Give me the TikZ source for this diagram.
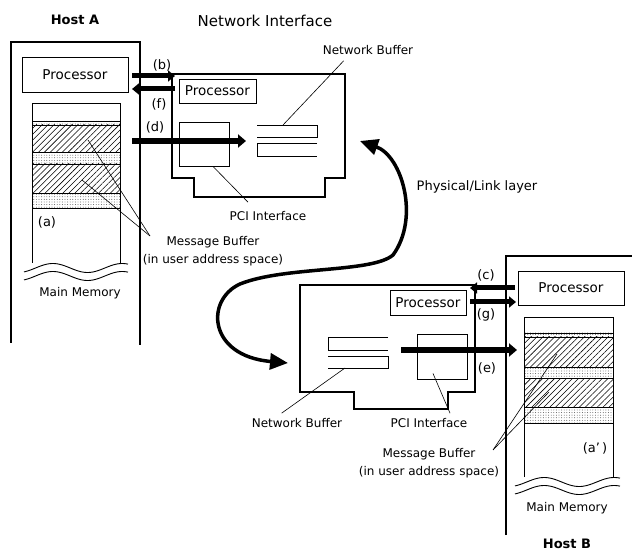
\documentclass[tikz,border=0pt]{standalone}
\usepackage{fontspec}
\setmainfont{DejaVu Sans}
\usepackage{tikz}
\usetikzlibrary{arrows.meta,patterns.meta,calc}
\tikzset{
    host wall/.style={line width=2.4pt},
    card wall/.style={line width=1.8pt},
    thin wall/.style={line width=0.9pt},
    box/.style={draw,line width=0.9pt,inner sep=0pt,font=\fontsize{13.5}{15}\selectfont},
    title/.style={inner sep=0pt,font=\bfseries\fontsize{13}{15}\selectfont},
    heading/.style={inner sep=0pt,font=\fontsize{15}{17}\selectfont},
    lbl/.style={inner sep=0pt,font=\fontsize{12}{18}\selectfont},
    tag/.style={inner sep=0pt,font=\fontsize{13}{15}\selectfont},
    leader/.style={line width=0.6pt},
    bus/.style={line width=5pt,-{Triangle[length=7pt,width=11pt]}},
    wide bus/.style={line width=5.5pt,-{Triangle[length=8pt,width=13pt]}},
    link/.style={line width=3.5pt,{Triangle[length=18pt,width=16pt]}-{Triangle[length=18pt,width=16pt]}},
    hatch band/.style={draw,line width=0.6pt,pattern={Lines[angle=45,distance=4.2pt,line width=0.55pt]}},
    dot band/.style={draw,line width=0.6pt,pattern={Dots[distance=2.6pt,radius=0.45pt]},pattern color=black!75},
}

\begin{document}
\begin{tikzpicture}[x=1pt,y=-1pt]
        \useasboundingbox (0,0) rectangle (632,553);

        \node[heading] (netif) at (265,21) {Network Interface};

        % Host A
        \begin{scope}
            \node[title] (hostA) at (75,20) {Host A};
            \draw[host wall] (11,343) -- (11,42) -- (140,42) -- (140,345);
            \node[box, minimum width=106pt, minimum height=35pt] (procA) at (75,74.5) {Processor};

            \draw[dot band] (32,121) rectangle (120,125);
            \draw[hatch band] (32,125) rectangle (120,152);
            \draw[dot band] (32,152) rectangle (120,164);
            \draw[hatch band] (32,164) rectangle (120,193);
            \draw[dot band] (32,193) rectangle (120,208);
            \draw[thin wall] (32,263) -- (32,103) -- (120,103) -- (120,263);
            \node[tag] (memA) at (47,222) {(a)};

            \draw[thin wall] plot[domain=-60:480, samples=60] ({24+(\x+60)/540*104},{268-4.5*sin(\x)});
            \draw[thin wall] plot[domain=-60:480, samples=60] ({24+(\x+60)/540*104},{276-4.5*sin(\x)});
            \node[lbl] (mainA) at (80,293) {Main Memory};
        \end{scope}

        % network interface of host A
        \begin{scope}
            \draw[card wall] (172,74) -- (345,74) -- (345,178) -- (325,178) -- (325,197)
                -- (194,197) -- (194,178) -- (172,178) -- cycle;
            \node[box, minimum width=77pt, minimum height=24pt] (niprocA) at (217.5,91) {Processor};
            \node[box, minimum width=50pt, minimum height=44pt] (pciA) at (204,144) {};
            \draw[thin wall] (257,125) -- (317,125) -- (317,137) -- (257,137);
            \draw[thin wall] (317,143) -- (257,143) -- (257,156) -- (317,156);
            \coordinate (bufA) at (283,125);

            \node[lbl] (nbA) at (368,50) {Network Buffer};
            \draw[leader] ([xshift=21pt,yshift=-6pt]nbA.south west) -- (bufA);
            \node[lbl] (pciAlbl) at (268,216) {PCI Interface};
            \draw[leader] ([xshift=9pt]pciA.south) -- ([xshift=-20pt,yshift=9pt]pciAlbl.north);
        \end{scope}

        % transfers on host A side
        \coordinate (bA) at (132,76);
        \coordinate (bB) at (175,76);
        \coordinate (fA) at (175,89);
        \coordinate (fB) at (132,89);
        \coordinate (dA) at (132,141);
        \coordinate (dB) at (246,141);
        \draw[bus] (bA) -- (bB);
        \draw[bus] (fA) -- (fB);
        \draw[wide bus] (dA) -- (dB);
        \node[tag] (lblb) at (162,65) {(b)};
        \node[tag] (lblf) at (159,104) {(f)};
        \node[tag] (lbld) at (155,127) {(d)};

        \node[lbl, align=center] (msgA) at (213,251) {Message Buffer\\(in user address space)};
        \coordinate (msgptA) at (150,236);
        \draw[leader] (msgptA) -- (88,140);
        \draw[leader] (msgptA) -- (82,180);

        % physical / link layer
        \coordinate (linkA) at (360,141);
        \coordinate (linkB) at (288,363);
        \draw[link] (linkA) .. controls (402,156) and (420,218) .. (393,255)
            .. controls (372,273) and (285,266) .. (240,284)
            .. controls (205,300) and (208,356) .. (linkB);
        \node[tag] (phys) at (477,187) {Physical/Link layer};

        % network interface of host B
        \begin{scope}
            \draw[card wall] (300,285) -- (475,285) -- (475,392) -- (448,392) -- (448,409)
                -- (354,409) -- (354,392) -- (300,392) -- cycle;
            \node[box, minimum width=76pt, minimum height=25pt] (niprocB) at (428,302.5) {Processor};
            \node[box, minimum width=50pt, minimum height=45pt] (pciB) at (442,356.5) {};
            \draw[thin wall] (388,337) -- (328,337) -- (328,350) -- (388,350);
            \draw[thin wall] (328,356) -- (388,356) -- (388,368) -- (328,368);
            \coordinate (bufB) at (345,368);

            \node[lbl] (nbB) at (297,423) {Network Buffer};
            \draw[leader] (bufB) -- ([xshift=30pt,yshift=5pt]nbB.north west);
            \node[lbl] (pciBlbl) at (429,423) {PCI Interface};
            \draw[leader] ([xshift=-9pt,yshift=6pt]pciB.south) -- ([xshift=21pt,yshift=5pt]pciBlbl.north);
        \end{scope}

        % Host B
        \begin{scope}
            \draw[host wall] (506,535) -- (506,256) -- (632,256);
            \node[box, minimum width=106pt, minimum height=34pt] (procB) at (571,288) {Processor};

            \draw[dot band] (524,333) rectangle (613,337);
            \draw[hatch band] (524,337) rectangle (613,367);
            \draw[dot band] (524,367) rectangle (613,378);
            \draw[hatch band] (524,378) rectangle (613,407);
            \draw[dot band] (524,407) rectangle (613,423);
            \draw[thin wall] (524,477) -- (524,317) -- (613,317) -- (613,477);
            \node[tag] (memB) at (595,448) {(a'\,)};

            \draw[thin wall] plot[domain=-60:480, samples=60] ({515+(\x+60)/540*105},{482-4.5*sin(\x)});
            \draw[thin wall] plot[domain=-60:480, samples=60] ({515+(\x+60)/540*105},{490-4.5*sin(\x)});
            \node[lbl] (mainB) at (567,508) {Main Memory};
            \node[title] (hostB) at (567,544) {Host B};
        \end{scope}

        % transfers on host B side
        \coordinate (cA) at (515,288);
        \coordinate (cB) at (470,288);
        \coordinate (gA) at (470,302);
        \coordinate (gB) at (516,302);
        \coordinate (eA) at (401,350);
        \coordinate (eB) at (517,350);
        \draw[bus] (cA) -- (cB);
        \draw[bus] (gA) -- (gB);
        \draw[wide bus] (eA) -- (eB);
        \node[tag] (lblc) at (486,275) {(c)};
        \node[tag] (lblg) at (486,315) {(g)};
        \node[tag] (lble) at (487,368) {(e)};

        \node[lbl, align=center] (msgB) at (429,463) {Message Buffer\\(in user address space)};
        \coordinate (msgptB) at (493,450);
        \draw[leader] (msgptB) -- (557,354);
        \draw[leader] (msgptB) -- (549,392);
    \end{tikzpicture}
\end{document}
